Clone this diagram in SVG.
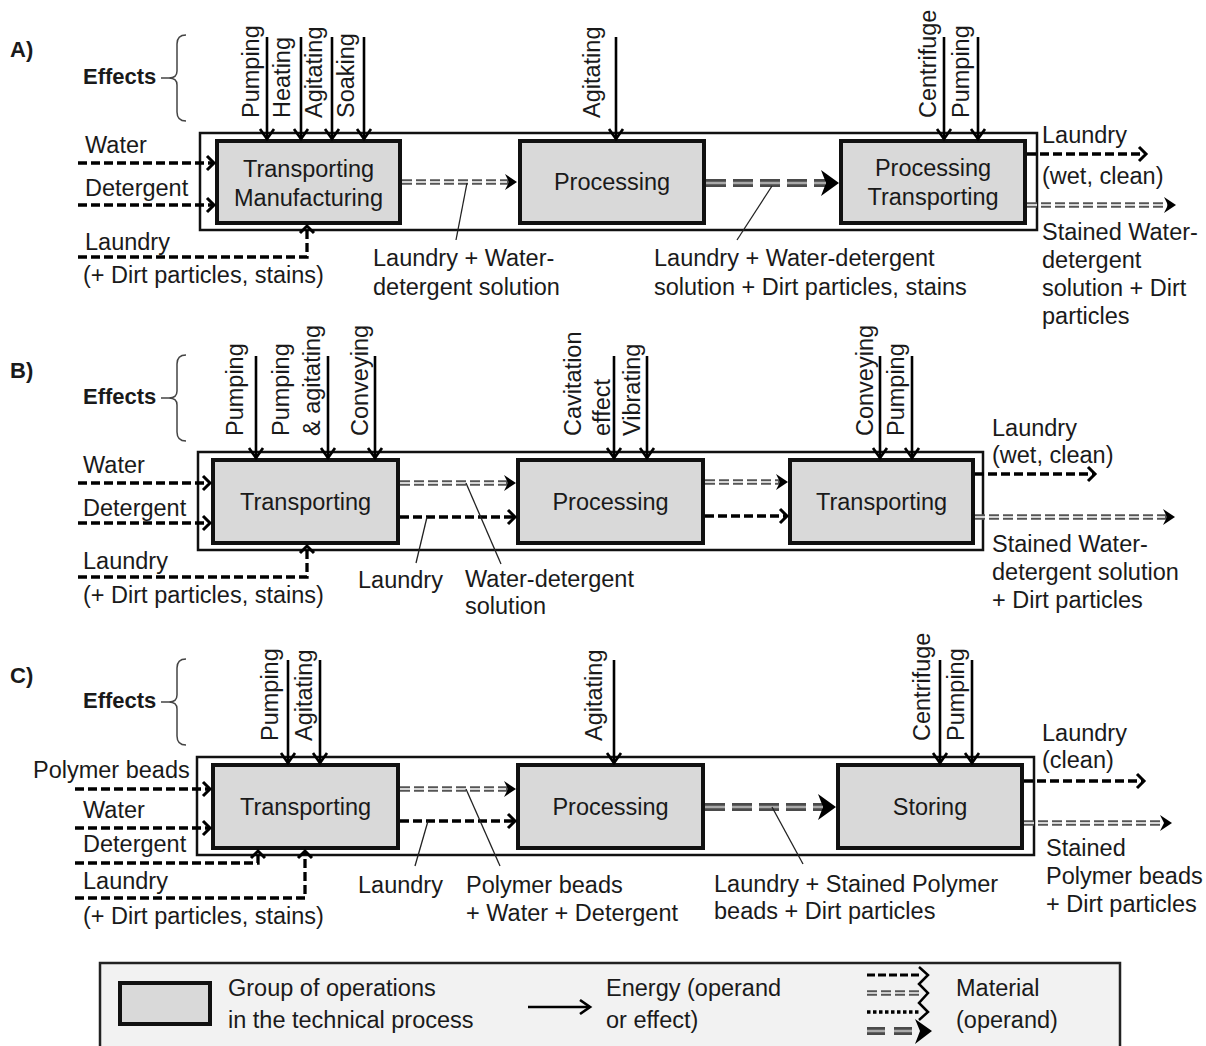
<svg xmlns="http://www.w3.org/2000/svg" width="1206" height="1046" viewBox="0 0 1206 1046">
<defs>
<style>
.t{font-family:"Liberation Sans",Arial,sans-serif;font-size:23.5px;fill:#1a1a1a}
.b{font-weight:bold;font-size:22px}
.m{text-anchor:middle}
.frame{fill:none;stroke:#111;stroke-width:2.5}
.box{fill:#d9d9d9;stroke:#111;stroke-width:4}
.en{fill:none;stroke:#000;stroke-width:2.6;marker-end:url(#ec)}
.md{fill:none;stroke:#000;stroke-width:3.3;stroke-dasharray:9 4;marker-end:url(#mc)}
.dd{fill:none;stroke:#555;stroke-width:5.5;stroke-dasharray:10 4;marker-end:url(#ma)}
.ddw{fill:none;stroke:#fff;stroke-width:1.5;stroke-dasharray:10 4}
.td{fill:none;stroke:#4a4a4a;stroke-width:8;stroke-dasharray:20 7;marker-end:url(#mt)}
.tdw{fill:none;stroke:#aaa;stroke-width:2.5;stroke-dasharray:20 7}
.lead{fill:none;stroke:#222;stroke-width:1.3}
.brace{fill:none;stroke:#444;stroke-width:1.5}
</style>
<marker id="ec" markerUnits="userSpaceOnUse" viewBox="-14 -10 18 20" markerWidth="18" markerHeight="20" refX="0" refY="0" orient="auto">
<path d="M-10,-7 L0,0 L-10,7" fill="none" stroke="#000" stroke-width="2.7"/>
</marker>
<marker id="mc" markerUnits="userSpaceOnUse" viewBox="-12 -10 16 20" markerWidth="16" markerHeight="20" refX="0" refY="0" orient="auto">
<path d="M-7,-7 L0,0 L-7,7" fill="none" stroke="#000" stroke-width="3" stroke-dasharray="none"/>
</marker>
<marker id="ma" markerUnits="userSpaceOnUse" viewBox="-6 -10 16 20" markerWidth="16" markerHeight="20" refX="0" refY="0" orient="auto">
<path d="M-4,-8 L8,0 L-4,8 L0,0 z" fill="#000" stroke="none"/>
</marker>
<marker id="mt" markerUnits="userSpaceOnUse" viewBox="-10 -15 22 30" markerWidth="22" markerHeight="30" refX="0" refY="0" orient="auto">
<path d="M-8,-13 L10,0 L-8,13 L-3,0 z" fill="#000" stroke="none"/>
</marker>
</defs>
<rect width="1206" height="1046" fill="#fff"/>

<!-- Panel labels / effects braces -->
<g id="headers">
<text class="t b" x="10" y="57">A)</text>
<text class="t b" x="83" y="84">Effects</text>
<path class="brace" d="M161,78 H169 M186,35 Q177,35 177,44 V71 Q177,78 169,78 Q177,78 177,85 V112 Q177,121 186,121"/>
<text class="t b" x="10" y="378">B)</text>
<text class="t b" x="83" y="404">Effects</text>
<path class="brace" d="M161,398 H169 M186,355 Q177,355 177,364 V391 Q177,398 169,398 Q177,398 177,405 V432 Q177,441 186,441"/>
<text class="t b" x="10" y="683">C)</text>
<text class="t b" x="83" y="708">Effects</text>
<path class="brace" d="M161,702 H169 M186,659 Q177,659 177,668 V695 Q177,702 169,702 Q177,702 177,709 V736 Q177,745 186,745"/>
</g>

<!-- system boundaries -->
<g id="frames">
<rect class="frame" x="200" y="133" width="837" height="97"/>
<rect class="frame" x="198" y="452" width="785" height="98"/>
<rect class="frame" x="197" y="757" width="837" height="98"/>
</g>

<!-- Nodes -->
<g id="A-transporting-manufacturing"><rect class="box" x="217" y="141" width="183" height="82"/><text class="t m" x="308.5" y="177">Transporting</text><text class="t m" x="308.5" y="206">Manufacturing</text></g>
<g id="A-processing"><rect class="box" x="520" y="141" width="184" height="82"/><text class="t m" x="612" y="190">Processing</text></g>
<g id="A-processing-transporting"><rect class="box" x="841" y="141" width="184" height="82"/><text class="t m" x="933" y="176">Processing</text><text class="t m" x="933" y="205">Transporting</text></g>

<g id="B-transporting-1"><rect class="box" x="213" y="460" width="185" height="83"/><text class="t m" x="305.5" y="509.5">Transporting</text></g>
<g id="B-processing"><rect class="box" x="518" y="460" width="185" height="83"/><text class="t m" x="610.5" y="509.5">Processing</text></g>
<g id="B-transporting-2"><rect class="box" x="790" y="460" width="183" height="83"/><text class="t m" x="881.5" y="509.5">Transporting</text></g>

<g id="C-transporting"><rect class="box" x="213" y="765" width="185" height="83"/><text class="t m" x="305.5" y="814.5">Transporting</text></g>
<g id="C-processing"><rect class="box" x="518" y="765" width="185" height="83"/><text class="t m" x="610.5" y="814.5">Processing</text></g>
<g id="C-storing"><rect class="box" x="838" y="765" width="184" height="83"/><text class="t m" x="930" y="814.5">Storing</text></g>

<!-- Connectors -->
<g id="connectors">
<!-- A energy -->
<path class="en" d="M267,37 V139"/><path class="en" d="M301,37 V139"/><path class="en" d="M332,37 V139"/><path class="en" d="M364,37 V139"/>
<path class="en" d="M616,37 V139"/>
<path class="en" d="M944,37 V139"/><path class="en" d="M978,37 V139"/>
<!-- A material -->
<path class="md" d="M78,163 H214"/>
<path class="md" d="M78,205 H214"/>
<path class="md" d="M78,257 H307 V226"/>
<path class="dd" d="M402,182 H509"/><path class="ddw" d="M402,182 H507"/>
<path class="td" d="M706,183 H829"/><path class="tdw" d="M706,183 H826"/>
<path class="md" d="M1027,154 H1146"/>
<path class="dd" d="M1027,205 H1168"/><path class="ddw" d="M1027,205 H1166"/>
<path class="lead" d="M467,183 L456,240"/>
<path class="lead" d="M772,186 L737,240"/>

<!-- B energy -->
<path class="en" d="M256,356 V458"/><path class="en" d="M328,356 V458"/><path class="en" d="M375,356 V458"/>
<path class="en" d="M614,356 V458"/><path class="en" d="M647,356 V458"/>
<path class="en" d="M880,356 V458"/><path class="en" d="M912,356 V458"/>
<!-- B material -->
<path class="md" d="M78,483 H210"/>
<path class="md" d="M78,523 H210"/>
<path class="md" d="M78,577 H307 V546"/>
<path class="dd" d="M400,483 H508"/><path class="ddw" d="M400,483 H506"/>
<path class="md" d="M400,517 H515"/>
<path class="dd" d="M705,482 H780"/><path class="ddw" d="M705,482 H778"/>
<path class="md" d="M705,516 H787"/>
<path class="md" d="M975,474 H1095"/>
<path class="dd" d="M975,517 H1167"/><path class="ddw" d="M975,517 H1165"/>
<path class="lead" d="M427,517 L416,563"/>
<path class="lead" d="M466,483 L501,564"/>

<!-- C energy -->
<path class="en" d="M288,660 V763"/><path class="en" d="M320,660 V763"/>
<path class="en" d="M614,660 V763"/>
<path class="en" d="M940,660 V763"/><path class="en" d="M972,660 V763"/>
<!-- C material -->
<path class="md" d="M75,789 H210"/>
<path class="md" d="M75,828 H210"/>
<path class="md" d="M75,863 H258 V851"/>
<path class="md" d="M75,898 H305 V851"/>
<path class="dd" d="M400,789 H508"/><path class="ddw" d="M400,789 H506"/>
<path class="md" d="M400,821 H515"/>
<path class="td" d="M705,807 H826"/><path class="tdw" d="M705,807 H823"/>
<path class="md" d="M1024,781 H1144"/>
<path class="dd" d="M1024,823 H1164"/><path class="ddw" d="M1024,823 H1162"/>
<path class="lead" d="M428,821 L415,866"/>
<path class="lead" d="M466,789 L500,866"/>
<path class="lead" d="M772,807 L803,864"/>
</g>

<!-- Effect labels -->
<g id="effect-labels">
<text class="t" transform="translate(258.5,118) rotate(-90)">Pumping</text>
<text class="t" transform="translate(290,118) rotate(-90)">Heating</text>
<text class="t" transform="translate(322,118) rotate(-90)">Agitating</text>
<text class="t" transform="translate(353.5,118) rotate(-90)">Soaking</text>
<text class="t" transform="translate(599.5,118) rotate(-90)">Agitating</text>
<text class="t" transform="translate(936,118) rotate(-90)">Centrifuge</text>
<text class="t" transform="translate(968.5,118) rotate(-90)">Pumping</text>

<text class="t" transform="translate(243,436) rotate(-90)">Pumping</text>
<text class="t" transform="translate(288.5,436) rotate(-90)">Pumping</text>
<text class="t" transform="translate(320,436) rotate(-90)">&amp; agitating</text>
<text class="t" transform="translate(368,436) rotate(-90)">Conveying</text>
<text class="t" transform="translate(581,436) rotate(-90)">Cavitation</text>
<text class="t" transform="translate(610,436) rotate(-90)">effect</text>
<text class="t" transform="translate(640,436) rotate(-90)">Vibrating</text>
<text class="t" transform="translate(872.5,436) rotate(-90)">Conveying</text>
<text class="t" transform="translate(904,436) rotate(-90)">Pumping</text>

<text class="t" transform="translate(278,741) rotate(-90)">Pumping</text>
<text class="t" transform="translate(312,741) rotate(-90)">Agitating</text>
<text class="t" transform="translate(602,741) rotate(-90)">Agitating</text>
<text class="t" transform="translate(929.5,741) rotate(-90)">Centrifuge</text>
<text class="t" transform="translate(963.5,741) rotate(-90)">Pumping</text>
</g>

<!-- Flow labels -->
<g id="flow-labels">
<text class="t" x="85" y="153">Water</text>
<text class="t" x="85" y="196">Detergent</text>
<text class="t" x="85" y="250">Laundry</text>
<text class="t" x="83" y="283">(+ Dirt particles, stains)</text>
<text class="t" x="373" y="266">Laundry + Water-</text>
<text class="t" x="373" y="295">detergent solution</text>
<text class="t" x="654" y="266">Laundry + Water-detergent</text>
<text class="t" x="654" y="295">solution + Dirt particles, stains</text>
<text class="t" x="1042" y="143">Laundry</text>
<text class="t" x="1042" y="184">(wet, clean)</text>
<text class="t" x="1042" y="240">Stained Water-</text>
<text class="t" x="1042" y="268">detergent</text>
<text class="t" x="1042" y="296">solution + Dirt</text>
<text class="t" x="1042" y="324">particles</text>

<text class="t" x="83" y="473">Water</text>
<text class="t" x="83" y="516">Detergent</text>
<text class="t" x="83" y="569">Laundry</text>
<text class="t" x="83" y="603">(+ Dirt particles, stains)</text>
<text class="t" x="358" y="588">Laundry</text>
<text class="t" x="465" y="587">Water-detergent</text>
<text class="t" x="465" y="614">solution</text>
<text class="t" x="992" y="436">Laundry</text>
<text class="t" x="992" y="463">(wet, clean)</text>
<text class="t" x="992" y="552">Stained Water-</text>
<text class="t" x="992" y="580">detergent solution</text>
<text class="t" x="992" y="608">+ Dirt particles</text>

<text class="t" x="33" y="778">Polymer beads</text>
<text class="t" x="83" y="818">Water</text>
<text class="t" x="83" y="852">Detergent</text>
<text class="t" x="83" y="889">Laundry</text>
<text class="t" x="83" y="924">(+ Dirt particles, stains)</text>
<text class="t" x="358" y="893">Laundry</text>
<text class="t" x="466" y="893">Polymer beads</text>
<text class="t" x="466" y="921">+ Water + Detergent</text>
<text class="t" x="714" y="892">Laundry + Stained Polymer</text>
<text class="t" x="714" y="919">beads + Dirt particles</text>
<text class="t" x="1042" y="741">Laundry</text>
<text class="t" x="1042" y="768">(clean)</text>
<text class="t" x="1046" y="856">Stained</text>
<text class="t" x="1046" y="884">Polymer beads</text>
<text class="t" x="1046" y="912">+ Dirt particles</text>
</g>

<!-- Legend -->
<g id="legend">
<rect x="100" y="963" width="1020" height="100" fill="#f2f2f2" stroke="#222" stroke-width="2.5"/>
<rect class="box" x="120" y="983" width="90" height="41"/>
<text class="t" x="228" y="996">Group of operations</text>
<text class="t" x="228" y="1028">in the technical process</text>
<path class="en" d="M528,1007 H590"/>
<text class="t" x="606" y="996">Energy (operand</text>
<text class="t" x="606" y="1028">or effect)</text>
<path d="M867,975 H920" fill="none" stroke="#000" stroke-width="3" stroke-dasharray="8 3"/>
<path d="M867,993 H920" fill="none" stroke="#555" stroke-width="5.5" stroke-dasharray="10 4"/>
<path d="M867,993 H920" fill="none" stroke="#f2f2f2" stroke-width="1.5" stroke-dasharray="10 4"/>
<path d="M867,1012 H920" fill="none" stroke="#000" stroke-width="3.5" stroke-dasharray="3.5 2.5"/>
<path d="M867,1031 H914" fill="none" stroke="#4a4a4a" stroke-width="8" stroke-dasharray="18 9"/>
<path d="M867,1031 H914" fill="none" stroke="#aaa" stroke-width="2.5" stroke-dasharray="18 9"/>
<path d="M919,967 L928,975 L919,984 L928,993 L919,1003 L928,1012 L919,1020" fill="none" stroke="#000" stroke-width="2.5"/>
<path d="M915,1019 L932,1031 L915,1044 L920,1031 z" fill="#000"/>
<text class="t" x="956" y="996">Material</text>
<text class="t" x="956" y="1028">(operand)</text>
</g>
</svg>
